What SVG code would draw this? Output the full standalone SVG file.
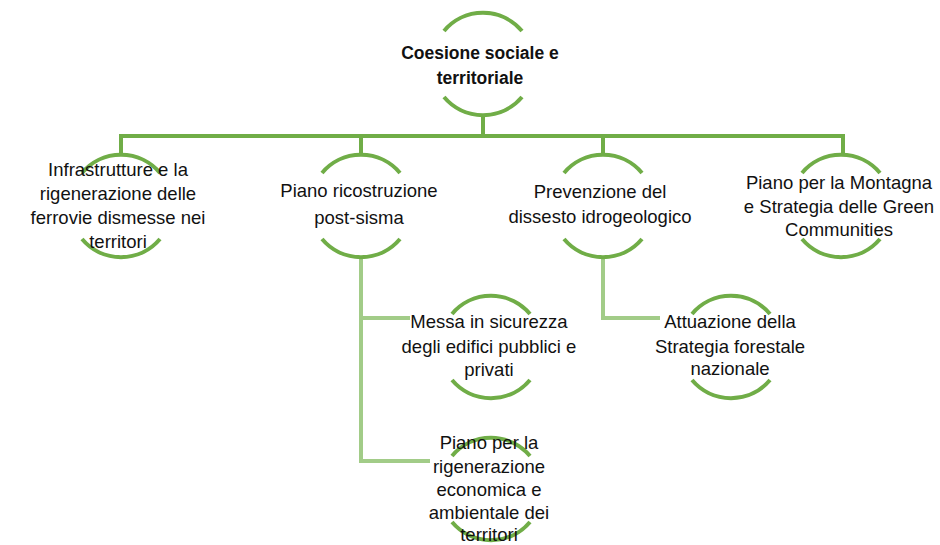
<svg xmlns="http://www.w3.org/2000/svg" width="940" height="545" viewBox="0 0 940 545">
<style>
.arc{fill:none;stroke:#70AD47;stroke-width:4}
.c1{fill:none;stroke:#70AD47;stroke-width:4}
.c2{fill:none;stroke:#A2CC88;stroke-width:4}
text{font-family:"Liberation Sans",Arial,sans-serif;font-size:18.5px;fill:#111;text-anchor:middle}
.b{font-weight:bold;font-size:17.5px}
</style>
<rect width="940" height="545" fill="#fff"/>
<g id="connectors">
<path class="c1" d="M483,115 V136"/>
<path class="c1" d="M121,155 V136 H843 V155"/>
<path class="c1" d="M361,136 V155 M603,136 V155"/>
<path class="c2" d="M361,257 V461 H430"/>
<path class="c2" d="M361,318 H410"/>
<path class="c2" d="M603,257 V318 H660"/>
</g>
<g id="n0">
<path class="arc" d="M444,31 A51,51 0 0 1 522,31 M444,97 A51,51 0 0 0 522,97"/>
<text class="b" x="480" y="59">Coesione sociale e</text>
<text class="b" x="480" y="84">territoriale</text>
</g>
<g id="n1">
<path class="arc" d="M82,173 A51,51 0 0 1 160,173 M82,239 A51,51 0 0 0 160,239"/>
<text x="118" y="176">Infrastrutture e la</text>
<text x="118" y="200">rigenerazione delle</text>
<text x="118" y="224">ferrovie dismesse nei</text>
<text x="118" y="248">territori</text>
</g>
<g id="n2">
<path class="arc" d="M322,173 A51,51 0 0 1 400,173 M322,239 A51,51 0 0 0 400,239"/>
<text x="359" y="197">Piano ricostruzione</text>
<text x="359" y="224">post-sisma</text>
</g>
<g id="n3">
<path class="arc" d="M564,173 A51,51 0 0 1 642,173 M564,239 A51,51 0 0 0 642,239"/>
<text x="600" y="198">Prevenzione del</text>
<text x="600" y="223">dissesto idrogeologico</text>
</g>
<g id="n4">
<path class="arc" d="M802,173 A51,51 0 0 1 880,173 M802,239 A51,51 0 0 0 880,239"/>
<text x="839" y="189">Piano per la Montagna</text>
<text x="839" y="213">e Strategia delle Green</text>
<text x="839" y="236">Communities</text>
</g>
<g id="m1">
<path class="arc" d="M452,314 A51,51 0 0 1 530,314 M452,380 A51,51 0 0 0 530,380"/>
<text x="489" y="328">Messa in sicurezza</text>
<text x="489" y="353">degli edifici pubblici e</text>
<text x="489" y="376">privati</text>
</g>
<g id="m2">
<path class="arc" d="M692,314 A51,51 0 0 1 770,314 M692,380 A51,51 0 0 0 770,380"/>
<text x="730" y="328">Attuazione della</text>
<text x="730" y="353">Strategia forestale</text>
<text x="730" y="375">nazionale</text>
</g>
<g id="m3">
<path class="arc" d="M452,456 A51,51 0 0 1 530,456 M452,522 A51,51 0 0 0 530,522"/>
<text x="489" y="449">Piano per la</text>
<text x="489" y="473">rigenerazione</text>
<text x="489" y="496">economica e</text>
<text x="489" y="519">ambientale dei</text>
<text x="489" y="541">territori</text>
</g>
</svg>
